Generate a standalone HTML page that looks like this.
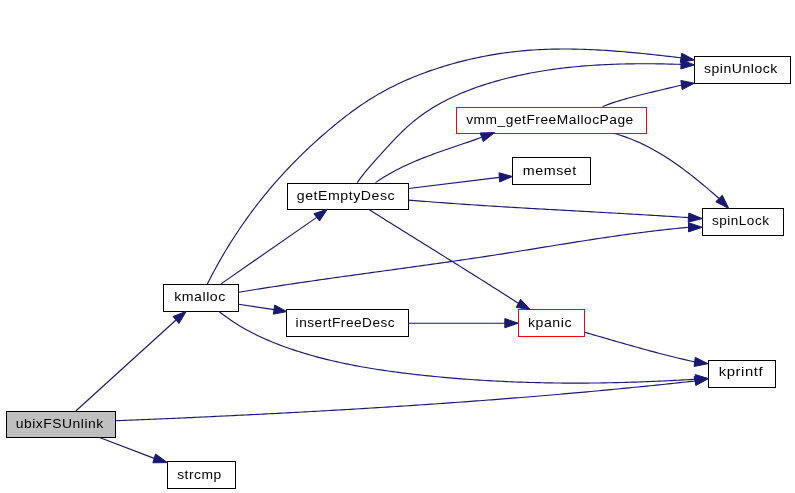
<!DOCTYPE html><html><head><meta charset="utf-8"><style>html,body{margin:0;padding:0;background:#fff;}svg{display:block;will-change:transform;}text{font-family:"Liberation Sans",sans-serif;font-size:13.5px;letter-spacing:0.5px;fill:#000;}</style></head><body>
<svg width="795" height="493" viewBox="0 0 795 493">
<rect x="6.5" y="411.5" width="109" height="26" fill="#bfbfbf" stroke="#000" stroke-width="1"/>
<text x="15.7" y="428" textLength="88.1" lengthAdjust="spacingAndGlyphs">ubixFSUnlink</text>
<rect x="167.5" y="461.5" width="68" height="27" fill="#fff" stroke="#000" stroke-width="1"/>
<text x="177.2" y="479" textLength="44.6" lengthAdjust="spacingAndGlyphs">strcmp</text>
<rect x="163.5" y="284.5" width="75" height="27" fill="#fff" stroke="#000" stroke-width="1"/>
<text x="174.2" y="301" textLength="51.6" lengthAdjust="spacingAndGlyphs">kmalloc</text>
<rect x="287.5" y="183.5" width="121" height="26" fill="#fff" stroke="#000" stroke-width="1"/>
<text x="296.8" y="199.6" textLength="98.4" lengthAdjust="spacingAndGlyphs">getEmptyDesc</text>
<rect x="286.5" y="309.5" width="122" height="27" fill="#fff" stroke="#000" stroke-width="1"/>
<text x="295.6" y="327" textLength="99.6" lengthAdjust="spacingAndGlyphs">insertFreeDesc</text>
<rect x="456.5" y="107.5" width="190" height="26" fill="#fff" stroke="#f00" stroke-width="1"/>
<text x="466.2" y="124" textLength="167.6" lengthAdjust="spacingAndGlyphs">vmm_getFreeMallocPage</text>
<rect x="512.5" y="157.5" width="78" height="27" fill="#fff" stroke="#000" stroke-width="1"/>
<text x="522.8" y="174.5" textLength="54" lengthAdjust="spacingAndGlyphs">memset</text>
<rect x="694.5" y="56.5" width="96" height="27" fill="#fff" stroke="#000" stroke-width="1"/>
<text x="704" y="72.7" textLength="73.8" lengthAdjust="spacingAndGlyphs">spinUnlock</text>
<rect x="702.5" y="208.5" width="81" height="27" fill="#fff" stroke="#000" stroke-width="1"/>
<text x="711.9" y="224.7" textLength="57.6" lengthAdjust="spacingAndGlyphs">spinLock</text>
<rect x="518.5" y="309.5" width="66" height="27" fill="#fff" stroke="#f00" stroke-width="1"/>
<text x="528" y="326.8" textLength="44" lengthAdjust="spacingAndGlyphs">kpanic</text>
<rect x="708.5" y="360.5" width="67" height="27" fill="#fff" stroke="#000" stroke-width="1"/>
<text x="718.8" y="376.4" textLength="44.3" lengthAdjust="spacingAndGlyphs">kprintf</text>
<g fill="none" stroke="#191970" stroke-width="1.15">
<path d="M75.8,411 L176,320"/>
<path d="M99.6,437.5 L154.2,458.4"/>
<path d="M116,420.8 119,420.68 122.01,420.55 125.01,420.43 128.02,420.3 131.02,420.18 134.03,420.05 137.03,419.92 140.04,419.8 143.04,419.67 146.05,419.54 149.05,419.41 152.06,419.28 155.06,419.15 158.07,419.02 161.07,418.89 164.08,418.76 167.08,418.63 170.09,418.5 173.09,418.36 176.09,418.23 179.1,418.1 182.1,417.96 185.11,417.83 188.11,417.69 191.12,417.56 194.12,417.42 197.13,417.28 200.13,417.14 203.14,417 206.14,416.86 209.15,416.72 212.15,416.58 215.16,416.44 218.16,416.3 221.17,416.16 224.17,416.01 227.18,415.87 230.18,415.73 233.19,415.58 236.19,415.44 239.2,415.29 242.2,415.14 245.21,414.99 248.21,414.84 251.22,414.69 254.22,414.54 257.23,414.39 260.23,414.24 263.24,414.09 266.24,413.94 269.24,413.78 272.25,413.63 275.25,413.47 278.26,413.32 281.26,413.16 284.27,413 287.27,412.84 290.28,412.68 293.28,412.52 296.28,412.36 299.29,412.2 302.29,412.04 305.3,411.87 308.3,411.71 311.3,411.54 314.31,411.38 317.31,411.21 320.32,411.04 323.32,410.87 326.32,410.7 329.33,410.53 332.33,410.36 335.33,410.19 338.34,410.01 341.34,409.84 344.35,409.67 347.35,409.49 350.35,409.31 353.36,409.13 356.36,408.96 359.36,408.78 362.36,408.59 365.37,408.41 368.37,408.23 371.37,408.05 374.38,407.86 377.38,407.68 380.38,407.49 383.38,407.3 386.39,407.11 389.39,406.92 392.39,406.73 395.39,406.54 398.4,406.35 401.4,406.15 404.4,405.96 407.4,405.76 410.4,405.56 413.41,405.37 416.41,405.17 419.41,404.97 422.41,404.77 425.41,404.56 428.41,404.36 431.41,404.15 434.41,403.95 437.42,403.74 440.42,403.53 443.42,403.32 446.42,403.11 449.42,402.9 452.42,402.69 455.42,402.47 458.42,402.26 461.42,402.04 464.42,401.83 467.42,401.61 470.42,401.39 473.42,401.17 476.42,400.94 479.42,400.72 482.42,400.5 485.42,400.27 488.42,400.04 491.42,399.81 494.41,399.58 497.41,399.35 500.41,399.12 503.41,398.89 506.41,398.65 509.41,398.42 512.4,398.18 515.4,397.94 518.4,397.7 521.4,397.46 524.4,397.22 527.39,396.97 530.39,396.73 533.39,396.48 536.39,396.23 539.38,395.98 542.38,395.73 545.38,395.48 548.37,395.23 551.37,394.97 554.36,394.72 557.36,394.46 560.36,394.2 563.35,393.94 566.35,393.68 569.34,393.41 572.34,393.15 575.33,392.88 578.33,392.62 581.32,392.35 584.32,392.08 587.31,391.81 590.31,391.53 593.3,391.26 596.3,390.98 599.29,390.7 602.28,390.43 605.28,390.14 608.27,389.86 611.26,389.58 614.26,389.29 617.25,389.01 620.24,388.72 623.23,388.43 626.23,388.14 629.22,387.85 632.21,387.55 635.2,387.25 638.19,386.96 641.19,386.66 644.18,386.36 647.17,386.06 650.16,385.75 653.15,385.45 656.14,385.14 659.13,384.83 662.12,384.52 665.11,384.21 668.1,383.9 671.09,383.58 674.08,383.26 677.07,382.94 680.06,382.62 683.05,382.3 686.04,381.98 689.02,381.65 692.01,381.33 695,381"/>
<path d="M207.3,284.1 208.66,281.4 210.04,278.7 211.44,276.02 212.85,273.34 214.27,270.68 215.71,268.02 217.17,265.38 218.64,262.75 220.13,260.12 221.63,257.51 223.15,254.91 224.68,252.32 226.23,249.74 227.79,247.17 229.37,244.61 230.96,242.06 232.58,239.52 234.2,236.99 235.84,234.47 237.5,231.97 239.17,229.47 240.86,226.99 242.56,224.51 244.28,222.05 246.02,219.6 247.77,217.16 249.53,214.73 251.31,212.31 253.11,209.9 254.92,207.51 256.75,205.12 258.59,202.75 260.45,200.38 262.33,198.03 264.22,195.69 266.12,193.36 268.04,191.04 269.98,188.74 271.93,186.44 273.9,184.16 275.88,181.89 277.88,179.63 279.89,177.38 281.92,175.14 283.96,172.92 286.02,170.71 288.09,168.51 290.17,166.32 292.27,164.14 294.38,161.98 296.5,159.83 298.64,157.69 300.79,155.57 302.95,153.46 305.13,151.36 307.31,149.27 309.51,147.2 311.73,145.14 313.95,143.09 316.18,141.06 318.43,139.04 320.69,137.03 322.96,135.04 325.24,133.06 327.53,131.09 329.84,129.14 332.15,127.2 334.47,125.28 336.81,123.37 339.15,121.48 341.51,119.6 343.88,117.75 346.26,115.91 348.65,114.09 351.06,112.29 353.48,110.51 355.92,108.75 358.37,107.02 360.84,105.31 363.32,103.63 365.82,101.97 368.34,100.35 370.87,98.74 373.42,97.17 375.99,95.63 378.58,94.12 381.18,92.64 383.81,91.18 386.44,89.76 389.1,88.36 391.77,87 394.46,85.66 397.16,84.34 399.87,83.06 402.6,81.8 405.34,80.57 408.1,79.37 410.87,78.19 413.65,77.04 416.44,75.91 419.25,74.81 422.06,73.73 424.89,72.68 427.72,71.65 430.57,70.65 433.42,69.67 436.29,68.72 439.16,67.78 442.04,66.87 444.93,65.99 447.83,65.12 450.73,64.28 453.64,63.46 456.55,62.66 459.47,61.89 462.4,61.14 465.33,60.41 468.27,59.7 471.22,59.02 474.17,58.36 477.12,57.72 480.08,57.1 483.04,56.51 486.01,55.94 488.98,55.39 491.95,54.87 494.93,54.37 497.91,53.89 500.89,53.44 503.88,53.01 506.86,52.6 509.85,52.21 512.84,51.85 515.84,51.51 518.83,51.2 521.83,50.91 524.82,50.64 527.82,50.39 530.82,50.17 533.82,49.96 536.82,49.78 539.83,49.62 542.83,49.48 545.83,49.35 548.84,49.25 551.85,49.17 554.85,49.1 557.86,49.06 560.87,49.03 563.88,49.01 566.88,49.02 569.89,49.04 572.9,49.08 575.91,49.13 578.92,49.2 581.93,49.28 584.94,49.38 587.95,49.49 590.96,49.62 593.97,49.76 596.98,49.91 599.99,50.08 603,50.25 606.01,50.44 609.02,50.64 612.03,50.85 615.04,51.07 618.05,51.31 621.06,51.55 624.06,51.8 627.07,52.06 630.07,52.32 633.08,52.6 636.08,52.89 639.09,53.18 642.09,53.47 645.09,53.78 648.09,54.09 651.09,54.41 654.08,54.73 657.08,55.06 660.08,55.39 663.07,55.72 666.06,56.06 669.05,56.41 672.04,56.75 675.03,57.1 678.02,57.45 681,57.8"/>
<path d="M220.7,284.1 L316.7,217.4"/>
<path d="M239,292.2 241.97,291.71 244.94,291.22 247.91,290.74 250.88,290.25 253.85,289.78 256.82,289.3 259.79,288.83 262.76,288.36 265.73,287.89 268.71,287.43 271.68,286.97 274.65,286.51 277.63,286.06 280.6,285.6 283.57,285.15 286.55,284.71 289.52,284.26 292.5,283.82 295.48,283.38 298.45,282.94 301.43,282.5 304.4,282.06 307.38,281.63 310.36,281.2 313.34,280.77 316.31,280.34 319.29,279.91 322.27,279.49 325.25,279.07 328.23,278.64 331.2,278.22 334.18,277.8 337.16,277.38 340.14,276.97 343.12,276.55 346.1,276.13 349.08,275.72 352.06,275.31 355.04,274.89 358.02,274.48 361,274.07 363.98,273.66 366.96,273.25 369.94,272.84 372.92,272.43 375.9,272.02 378.88,271.61 381.86,271.2 384.84,270.79 387.82,270.38 390.8,269.97 393.78,269.56 396.76,269.15 399.74,268.74 402.72,268.33 405.7,267.92 408.68,267.5 411.66,267.09 414.64,266.68 417.62,266.26 420.6,265.85 423.58,265.43 426.56,265.02 429.54,264.6 432.52,264.18 435.5,263.76 438.48,263.34 441.45,262.92 444.43,262.49 447.41,262.07 450.39,261.64 453.37,261.21 456.34,260.78 459.32,260.35 462.3,259.92 465.27,259.48 468.25,259.04 471.23,258.6 474.2,258.16 477.18,257.72 480.15,257.27 483.13,256.82 486.1,256.37 489.08,255.92 492.05,255.46 495.02,255 498,254.54 500.97,254.08 503.94,253.61 506.91,253.14 509.88,252.67 512.86,252.2 515.83,251.73 518.8,251.25 521.77,250.78 524.74,250.3 527.71,249.82 530.68,249.34 533.65,248.86 536.62,248.38 539.59,247.9 542.56,247.42 545.53,246.93 548.5,246.45 551.47,245.97 554.44,245.49 557.41,245.01 560.38,244.54 563.35,244.06 566.32,243.58 569.29,243.11 572.26,242.63 575.23,242.16 578.2,241.69 581.17,241.23 584.15,240.76 587.12,240.3 590.09,239.84 593.06,239.38 596.04,238.93 599.01,238.48 601.98,238.03 604.96,237.59 607.93,237.15 610.91,236.71 613.88,236.28 616.86,235.85 619.83,235.43 622.81,235.01 625.79,234.6 628.77,234.19 631.75,233.78 634.73,233.38 637.71,232.99 640.69,232.6 643.67,232.22 646.65,231.84 649.64,231.47 652.62,231.11 655.6,230.75 658.59,230.4 661.58,230.06 664.56,229.72 667.55,229.39 670.54,229.07 673.53,228.75 676.52,228.45 679.52,228.15 682.51,227.86 685.5,227.57 688.5,227.3"/>
<path d="M238.7,304.3 L274,309.6"/>
<path d="M218.8,311.3 221.19,313.19 223.61,315.03 226.05,316.82 228.51,318.57 231,320.28 233.5,321.94 236.03,323.56 238.58,325.15 241.15,326.69 243.73,328.19 246.34,329.66 248.96,331.09 251.6,332.48 254.26,333.84 256.93,335.16 259.62,336.45 262.33,337.71 265.05,338.93 267.78,340.13 270.52,341.3 273.28,342.43 276.05,343.54 278.83,344.62 281.63,345.68 284.43,346.71 287.24,347.72 290.07,348.7 292.9,349.66 295.74,350.6 298.58,351.51 301.44,352.41 304.3,353.29 307.17,354.14 310.04,354.98 312.92,355.79 315.81,356.59 318.71,357.37 321.61,358.13 324.52,358.87 327.43,359.59 330.35,360.29 333.28,360.98 336.21,361.65 339.14,362.31 342.08,362.95 345.03,363.57 347.98,364.17 350.93,364.77 353.89,365.34 356.85,365.9 359.81,366.45 362.78,366.98 365.76,367.51 368.73,368.01 371.71,368.51 374.69,368.99 377.68,369.46 380.66,369.91 383.65,370.36 386.64,370.79 389.63,371.22 392.63,371.63 395.62,372.03 398.62,372.42 401.62,372.81 404.61,373.18 407.61,373.55 410.61,373.9 413.61,374.25 416.61,374.59 419.61,374.92 422.61,375.25 425.61,375.57 428.61,375.88 431.61,376.18 434.61,376.48 437.61,376.77 440.6,377.05 443.6,377.33 446.6,377.6 449.6,377.86 452.59,378.11 455.59,378.36 458.59,378.6 461.58,378.84 464.58,379.07 467.57,379.29 470.57,379.5 473.57,379.71 476.56,379.91 479.56,380.11 482.55,380.3 485.55,380.48 488.54,380.66 491.54,380.82 494.53,380.99 497.53,381.14 500.52,381.29 503.51,381.44 506.51,381.58 509.5,381.71 512.5,381.83 515.49,381.95 518.49,382.07 521.48,382.17 524.47,382.27 527.47,382.37 530.46,382.46 533.46,382.54 536.45,382.62 539.45,382.69 542.44,382.76 545.44,382.82 548.43,382.87 551.43,382.92 554.42,382.96 557.42,383 560.41,383.03 563.41,383.06 566.4,383.08 569.4,383.09 572.39,383.1 575.39,383.11 578.39,383.11 581.38,383.1 584.38,383.09 587.38,383.07 590.37,383.05 593.37,383.02 596.37,382.99 599.37,382.95 602.36,382.9 605.36,382.85 608.36,382.8 611.36,382.74 614.36,382.68 617.36,382.61 620.36,382.54 623.36,382.46 626.36,382.38 629.36,382.29 632.36,382.19 635.37,382.1 638.37,381.99 641.37,381.89 644.37,381.78 647.38,381.66 650.38,381.54 653.39,381.41 656.39,381.28 659.4,381.15 662.4,381.01 665.41,380.87 668.41,380.72 671.42,380.57 674.43,380.41 677.44,380.25 680.45,380.08 683.46,379.91 686.47,379.74 689.48,379.56 692.49,379.38 695.5,379.2"/>
<path d="M357.3,182.6 359.04,180.13 360.82,177.71 362.64,175.32 364.5,172.97 366.38,170.64 368.3,168.34 370.24,166.06 372.2,163.8 374.19,161.54 376.19,159.3 378.2,157.06 380.23,154.82 382.27,152.58 384.31,150.33 386.37,148.08 388.43,145.83 390.51,143.6 392.61,141.37 394.72,139.16 396.85,136.96 398.99,134.79 401.16,132.64 403.36,130.52 405.57,128.43 407.82,126.38 410.09,124.36 412.39,122.39 414.72,120.47 417.09,118.6 419.48,116.77 421.9,114.99 424.36,113.25 426.84,111.56 429.35,109.92 431.88,108.31 434.44,106.75 437.03,105.23 439.63,103.75 442.26,102.31 444.92,100.91 447.59,99.55 450.28,98.23 453,96.94 455.73,95.68 458.48,94.46 461.24,93.28 464.02,92.13 466.82,91.01 469.63,89.92 472.45,88.86 475.28,87.83 478.13,86.83 480.98,85.86 483.85,84.92 486.72,84 489.61,83.11 492.49,82.24 495.39,81.39 498.29,80.58 501.2,79.78 504.11,79.01 507.03,78.26 509.96,77.53 512.89,76.83 515.83,76.14 518.77,75.48 521.71,74.85 524.67,74.23 527.62,73.63 530.58,73.06 533.55,72.5 536.52,71.97 539.49,71.46 542.47,70.96 545.45,70.49 548.44,70.03 551.43,69.59 554.42,69.17 557.42,68.77 560.42,68.39 563.42,68.02 566.42,67.67 569.43,67.34 572.44,67.03 575.45,66.73 578.46,66.45 581.48,66.18 584.5,65.93 587.52,65.7 590.54,65.48 593.56,65.27 596.58,65.08 599.6,64.9 602.63,64.74 605.65,64.59 608.68,64.45 611.7,64.33 614.73,64.22 617.75,64.12 620.78,64.04 623.8,63.96 626.83,63.9 629.85,63.85 632.88,63.81 635.9,63.77 638.92,63.75 641.94,63.75 644.96,63.74 647.97,63.75 650.99,63.77 654,63.8 657.01,63.84 660.02,63.88 663.03,63.93 666.03,63.99 669.03,64.06 672.03,64.13 675.02,64.22 678.01,64.3 681,64.4"/>
<path d="M375.5,182.6 378.03,180.87 380.58,179.18 383.15,177.54 385.75,175.95 388.38,174.41 391.02,172.91 393.69,171.44 396.37,170.02 399.08,168.64 401.8,167.29 404.55,165.98 407.3,164.7 410.08,163.44 412.86,162.22 415.67,161.03 418.48,159.86 421.31,158.72 424.14,157.6 426.99,156.5 429.84,155.42 432.71,154.36 435.58,153.31 438.45,152.27 441.34,151.25 444.22,150.24 447.11,149.24 450,148.25 452.9,147.26 455.79,146.27 458.68,145.29 461.57,144.31 464.46,143.32 467.35,142.34 470.23,141.34 473.11,140.35 475.98,139.34 478.84,138.33 481.7,137.3"/>
<path d="M408.5,188.5 L499.3,177.4"/>
<path d="M408.5,200.1 411.51,200.35 414.52,200.59 417.52,200.83 420.53,201.07 423.54,201.31 426.55,201.55 429.56,201.78 432.56,202.01 435.57,202.23 438.58,202.46 441.59,202.68 444.6,202.9 447.61,203.12 450.62,203.33 453.63,203.54 456.64,203.75 459.65,203.96 462.66,204.17 465.67,204.37 468.67,204.58 471.68,204.78 474.69,204.98 477.71,205.17 480.72,205.37 483.73,205.56 486.74,205.76 489.75,205.95 492.76,206.14 495.77,206.32 498.78,206.51 501.79,206.7 504.8,206.88 507.81,207.06 510.82,207.24 513.83,207.42 516.84,207.6 519.86,207.78 522.87,207.96 525.88,208.13 528.89,208.31 531.9,208.48 534.91,208.65 537.92,208.83 540.94,209 543.95,209.17 546.96,209.34 549.97,209.51 552.98,209.68 555.99,209.85 559.01,210.02 562.02,210.19 565.03,210.35 568.04,210.52 571.05,210.69 574.07,210.86 577.08,211.02 580.09,211.19 583.1,211.36 586.11,211.53 589.12,211.69 592.14,211.86 595.15,212.03 598.16,212.2 601.17,212.36 604.18,212.53 607.2,212.7 610.21,212.87 613.22,213.04 616.23,213.21 619.24,213.38 622.25,213.55 625.27,213.73 628.28,213.9 631.29,214.07 634.3,214.25 637.31,214.42 640.32,214.6 643.34,214.78 646.35,214.96 649.36,215.14 652.37,215.32 655.38,215.5 658.39,215.68 661.4,215.87 664.41,216.06 667.43,216.24 670.44,216.43 673.45,216.62 676.46,216.81 679.47,217.01 682.48,217.2 685.49,217.4 688.5,217.6"/>
<path d="M368.5,209.2 371.04,210.8 373.57,212.4 376.11,214 378.65,215.6 381.19,217.2 383.73,218.79 386.27,220.39 388.82,221.98 391.36,223.57 393.9,225.16 396.45,226.75 398.99,228.34 401.54,229.93 404.08,231.52 406.63,233.1 409.17,234.69 411.72,236.28 414.27,237.86 416.82,239.44 419.36,241.03 421.91,242.61 424.46,244.2 427.01,245.78 429.55,247.36 432.1,248.95 434.65,250.53 437.2,252.11 439.74,253.7 442.29,255.28 444.84,256.87 447.38,258.45 449.93,260.04 452.48,261.62 455.02,263.21 457.57,264.8 460.11,266.38 462.65,267.97 465.2,269.56 467.74,271.15 470.28,272.75 472.82,274.34 475.37,275.93 477.9,277.53 480.44,279.13 482.98,280.73 485.52,282.33 488.06,283.93 490.59,285.53 493.12,287.14 495.66,288.74 498.19,290.35 500.72,291.96 503.25,293.58 505.78,295.19 508.31,296.81 510.83,298.43 513.36,300.05 515.88,301.67 518.4,303.3"/>
<path d="M408.5,323.2 L504.8,323.2"/>
<path d="M602.6,106.5 605.42,105.42 608.26,104.38 611.11,103.38 613.97,102.41 616.85,101.48 619.74,100.58 622.64,99.71 625.55,98.86 628.47,98.04 631.39,97.24 634.32,96.46 637.26,95.7 640.21,94.95 643.16,94.22 646.11,93.5 649.06,92.79 652.02,92.09 654.98,91.39 657.94,90.7 660.9,90.01 663.85,89.31 666.8,88.61 669.75,87.91 672.7,87.2 675.64,86.48 678.57,85.75 681.5,85"/>
<path d="M614.4,133.5 617.33,134.32 620.23,135.21 623.11,136.14 625.97,137.13 628.81,138.18 631.63,139.27 634.42,140.41 637.2,141.6 639.95,142.84 642.69,144.12 645.4,145.44 648.09,146.81 650.77,148.22 653.43,149.66 656.07,151.15 658.69,152.67 661.29,154.23 663.87,155.82 666.44,157.44 668.98,159.09 671.52,160.78 674.03,162.49 676.53,164.23 679.01,165.99 681.48,167.78 683.93,169.59 686.36,171.42 688.78,173.27 691.19,175.14 693.58,177.03 695.96,178.93 698.32,180.85 700.67,182.78 703,184.72 705.33,186.67 707.64,188.63 709.93,190.59 712.22,192.56 714.49,194.54 716.75,196.52 719,198.5"/>
<path d="M584.7,332.3 587.66,333.15 590.62,334 593.58,334.85 596.53,335.71 599.49,336.56 602.45,337.42 605.41,338.27 608.37,339.13 611.33,339.98 614.28,340.83 617.24,341.68 620.2,342.53 623.17,343.38 626.13,344.22 629.09,345.07 632.05,345.9 635.02,346.74 637.98,347.56 640.95,348.39 643.92,349.21 646.89,350.02 649.86,350.83 652.84,351.62 655.81,352.42 658.79,353.2 661.77,353.98 664.75,354.75 667.73,355.51 670.72,356.26 673.71,357 676.7,357.74 679.69,358.46 682.69,359.17 685.69,359.87 688.69,360.56 691.69,361.24 694.7,361.9"/>
</g>
<g fill="#191970" stroke="#191970" stroke-width="1"><polygon points="178.97,323.51 186.3,311.3 173.03,316.49"/><polygon points="152.81,462.79 167.5,462.6 155.59,454.01"/><polygon points="695.81,385.53 708.4,378.6 694.19,376.47"/><polygon points="680.26,62.34 694.5,60 681.74,53.26"/><polygon points="319.5,221.05 327.5,209.1 313.9,213.75"/><polygon points="688.5,231.9 702.3,227.3 688.5,222.7"/><polygon points="273.3,314.15 286.9,311.6 274.7,305.05"/><polygon points="695.71,383.8 708.4,378.6 695.29,374.6"/><polygon points="680.83,69 694.5,64.9 681.17,59.8"/><polygon points="483.27,141.62 494.6,132.6 480.13,132.98"/><polygon points="499.62,181.99 512.4,176.5 498.98,172.81"/><polygon points="688.17,222.19 702.3,218.6 688.83,213.01"/><polygon points="516.23,307.36 530.2,309.6 520.57,299.24"/><polygon points="504.8,327.8 518.3,323.2 504.8,318.6"/><polygon points="682.13,89.56 694.5,83.2 680.87,80.44"/><polygon points="715.71,201.72 728.8,208.5 722.29,195.28"/><polygon points="694.08,366.46 708,363.7 695.32,357.34"/></g>
</svg></body></html>
